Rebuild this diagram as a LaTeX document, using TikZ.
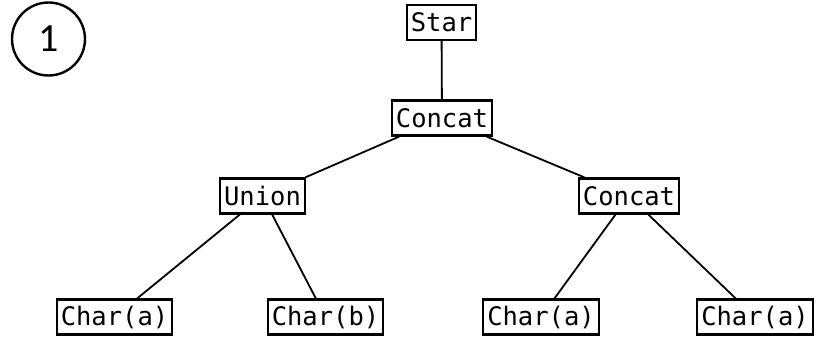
\documentclass[tikz,border=0pt]{standalone}
\usepackage{fontspec}
\setmonofont{DejaVu Sans Mono}
\newfontfamily\numfont{Carlito}

\begin{document}
\begin{tikzpicture}[x=1pt,y=-1pt]
\tikzstyle{nod}= [draw, line width=2.2pt, inner xsep=4pt, inner ysep=0pt, minimum height=35pt, font=\ttfamily\fontsize{25.5}{25.5}\selectfont]
\useasboundingbox (0,0) rectangle (823,342);
% number in the corner
\draw[line width=2.4pt] (48.5,39) circle (36.5);
\node[font=\numfont\fontsize{40}{40}\selectfont] (num) at (48.5,39) {1};
% tree
\node[nod] (star) at (441.5,22.5) {Star};
\node[nod] (cc) at (442,118) {Concat};
\node[nod] (un) at (262.5,196) {Union};
\node[nod] (cr) at (629,196) {Concat};
\node[nod] (ca1) at (114.5,317) {Char(a)};
\node[nod] (cb) at (325.5,317) {Char(b)};
\node[nod] (ca2) at (541,317) {Char(a)};
\node[nod] (ca3) at (755,317) {Char(a)};
\draw[line width=1.8pt] (star) -- (cc);
\draw[line width=1.8pt] (cc) -- (un);
\draw[line width=1.8pt] (cc) -- (cr);
\draw[line width=1.8pt] (un) -- (ca1);
\draw[line width=1.8pt] (un) -- (cb);
\draw[line width=1.8pt] (cr) -- (ca2);
\draw[line width=1.8pt] (cr) -- (ca3);
\end{tikzpicture}
\end{document}
